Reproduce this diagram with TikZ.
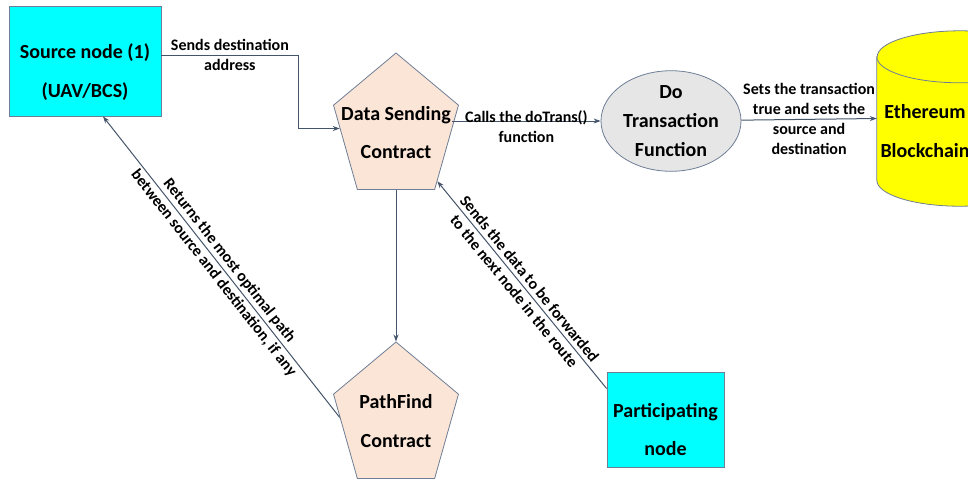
\documentclass[tikz,border=0pt]{standalone}
\usepackage{fontspec}
\setmainfont{Carlito}
\usetikzlibrary{shapes.geometric,arrows.meta}
\definecolor{hostcyan}{RGB}{0,255,255}
\definecolor{contractfill}{RGB}{251,229,214}
\definecolor{funcfill}{RGB}{231,230,230}
\definecolor{ledgerfill}{RGB}{255,255,0}
\definecolor{edgeclr}{RGB}{110,126,150}
\definecolor{arrowclr}{RGB}{68,84,106}

\begin{document}
\begin{tikzpicture}[x=1pt,y=-1pt,
    hostbox/.style={draw=edgeclr, line width=0.8pt, fill=hostcyan, inner sep=0pt},
    shapetext/.style={align=center, font=\bfseries\fontsize{20}{38.5}\selectfont},
    contract/.style={draw=edgeclr, line width=0.8pt, fill=contractfill, regular polygon, regular polygon sides=5, minimum size=151pt, inner sep=0pt, transform shape},
    func/.style={draw=edgeclr, line width=0.8pt, fill=funcfill, ellipse, minimum width=140pt, minimum height=94pt, inner sep=0pt, align=center, font=\bfseries\fontsize{20}{29}\selectfont},
    ledger/.style={minimum width=166pt, minimum height=123pt, inner sep=0pt},
    lbl/.style={align=center, font=\bfseries\fontsize{16}{20}\selectfont},
    arr/.style={draw=arrowclr, line width=1pt, -{Stealth[length=7pt,width=5pt]}}]
    \useasboundingbox (0,0) rectangle (968,480);

    % boxes
    \node[hostbox, minimum width=152pt, minimum height=110pt] (src) at (85,61) {};
    \node[shapetext] (srctext) at ([yshift=-11pt]src.center) {Source node (1)\\(UAV/BCS)};
    \node[hostbox, minimum width=117pt, minimum height=95pt] (part) at (665.5,419.5) {};
    \node[shapetext] (parttext) at ([yshift=-10pt]part.center) {Participating\\node};

    % contracts
    \begin{scope}[shift={(396,128.5)}, xscale=0.87]
        \node[contract] (ds) {};
    \end{scope}
    \begin{scope}[shift={(396,417.5)}, xscale=0.87]
        \node[contract] (pf) {};
    \end{scope}
    \node[shapetext] (dstext) at ([yshift=-4pt]ds.center) {Data Sending\\Contract};
    \node[shapetext] (pftext) at ([yshift=-3.5pt]pf.center) {PathFind\\Contract};

    \node[func] (dt) at (671,121) {Do\\Transaction\\Function};

    % blockchain cylinder
    \node[ledger] (eth) at (960,118.5) {};
    \draw[draw=edgeclr, line width=0.8pt, fill=ledgerfill] (eth.north west) -- (eth.south west)
        arc[start angle=180, end angle=360, x radius=83pt, y radius=26pt] -- (eth.north east)
        arc[start angle=0, end angle=180, x radius=83pt, y radius=26pt] -- cycle;
    \draw[draw=edgeclr, line width=0.8pt] (eth.north west) arc[start angle=180, end angle=360, x radius=83pt, y radius=26pt];
    \node[shapetext] (ethtext) at (925,131) {Ethereum\\Blockchain};

    % connectors
    \draw[arr] ([yshift=6pt]src.east) -- node[lbl, midway] {Sends destination\\address} ++(137,0) |- (ds.west);
    \draw[arr] (ds.east |- dt.west) -- node[lbl, midway, yshift=-6pt] {Calls the doTrans()\\function} (dt.west);
    \draw[arr] (dt) -- node[lbl, midway] {Sets the transaction\\true and sets the\\source and\\destination} (eth.west);
    \draw[arr] (ds.south) -- (pf.north);
    \draw[arr] (pf.west) -- node[lbl, midway, sloped] {Returns the most optimal path\\between source and destination, if any} ([xshift=18pt]src.south);
    \draw[arr] ([yshift=31pt]part.west) -- node[lbl, midway, sloped] {Sends the data to be forwarded\\to the next node in the route} (ds.-48);

\end{tikzpicture}
\end{document}
